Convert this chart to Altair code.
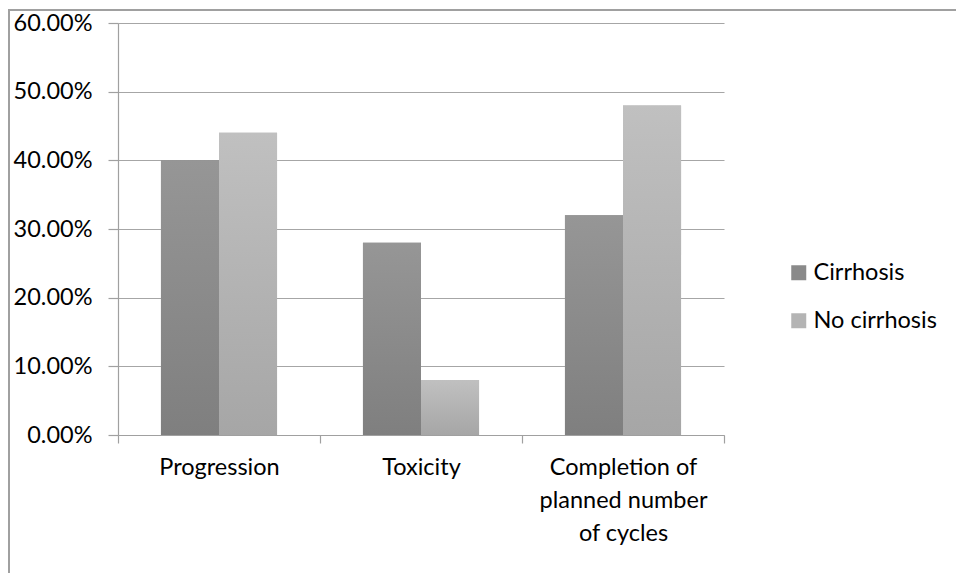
import altair as alt
import pandas as pd

categories = ["Progression", "Toxicity", "Completion of planned number of cycles"]
series = ["Cirrhosis", "No cirrhosis"]
cirrhosis = [0.40, 0.28, 0.32]
no_cirrhosis = [0.44, 0.08, 0.48]
y_ticks = [0, 0.1, 0.2, 0.3, 0.4, 0.5, 0.6]

rows = []
for c, a, b in zip(categories, cirrhosis, no_cirrhosis):
    rows.append({"category": c, "group": series[0], "value": a})
    rows.append({"category": c, "group": series[1], "value": b})
df = pd.DataFrame(rows)

FONT = "Lato"
FS = 23.5

x_enc = alt.X(
    "category:N",
    sort=categories,
    title=None,
    scale=alt.Scale(paddingInner=0, paddingOuter=0),
    axis=alt.Axis(
        labelAngle=0,
        tickBand="extent",
        tickSize=8,
        labelPadding=12,
        labelLineHeight=33,
        labelBaseline="top",
        labelExpr="datum.label == 'Completion of planned number of cycles' ? ['Completion of', 'planned number', 'of cycles'] : datum.label",
        grid=False,
    ),
)
xo_enc = alt.XOffset("group:N", sort=series, scale=alt.Scale(paddingOuter=0.74, paddingInner=0))
y_enc = alt.Y(
    "value:Q",
    title=None,
    scale=alt.Scale(domain=[0, 0.6]),
    axis=alt.Axis(format=".2%", values=y_ticks, labelOverlap=False,
                  tickSize=10, labelPadding=16, grid=True),
)

base = alt.Chart(df)

legend_layer = base.mark_bar().encode(
    x=x_enc,
    xOffset=xo_enc,
    y=y_enc,
    color=alt.Color(
        "group:N",
        sort=series,
        scale=alt.Scale(domain=series, range=["#8a8a8a", "#b4b4b4"]),
        legend=alt.Legend(
            title=None,
            orient="none",
            legendX=669,
            legendY=238,
            symbolType="square",
            symbolSize=225,
            symbolStrokeWidth=0,
            labelFontSize=FS,
            labelFont=FONT,
            labelColor="#000000",
            labelOffset=3,
            rowPadding=23,
            padding=0,
        ),
    ),
)

def grad(top, bottom):
    return alt.Gradient(
        gradient="linear",
        stops=[alt.GradientStop(color=top, offset=0), alt.GradientStop(color=bottom, offset=1)],
        x1=0, x2=0, y1=0, y2=1,
    )

dark = base.transform_filter(alt.datum.group == series[0]).mark_bar(
    fill=grad("#969696", "#7f7f7f")
).encode(x=x_enc, xOffset=xo_enc, y=y_enc)

light = base.transform_filter(alt.datum.group == series[1]).mark_bar(
    fill=grad("#c0c0c0", "#a6a6a6")
).encode(x=x_enc, xOffset=xo_enc, y=y_enc)

border_top = alt.Chart(df).mark_rule(color="#a0a0a0", strokeWidth=2).encode(
    x=alt.value(-110), x2=alt.value(850), y=alt.value(-13), y2=alt.value(-13)
)
border_left = alt.Chart(df).mark_rule(color="#a0a0a0", strokeWidth=2).encode(
    x=alt.value(-109), x2=alt.value(-109), y=alt.value(-14), y2=alt.value(560)
)

chart = alt.layer(legend_layer, dark, light, border_top, border_left).properties(
    width=606,
    height=412,
    autosize=alt.AutoSizeParams(type="none"),
    padding={"left": 110, "top": 15, "right": 232, "bottom": 138},
).configure_view(stroke=None).configure_axis(
    labelFont=FONT,
    labelFontSize=FS,
    labelColor="#000000",
    domainColor="#a0a0a0",
    tickColor="#a0a0a0",
    gridColor="#a6a6a6",
    domainWidth=1.2,
    tickWidth=1.2,
    gridWidth=1.2,
)

chart.save("out.html", embed_options={"renderer": "svg", "actions": False})
